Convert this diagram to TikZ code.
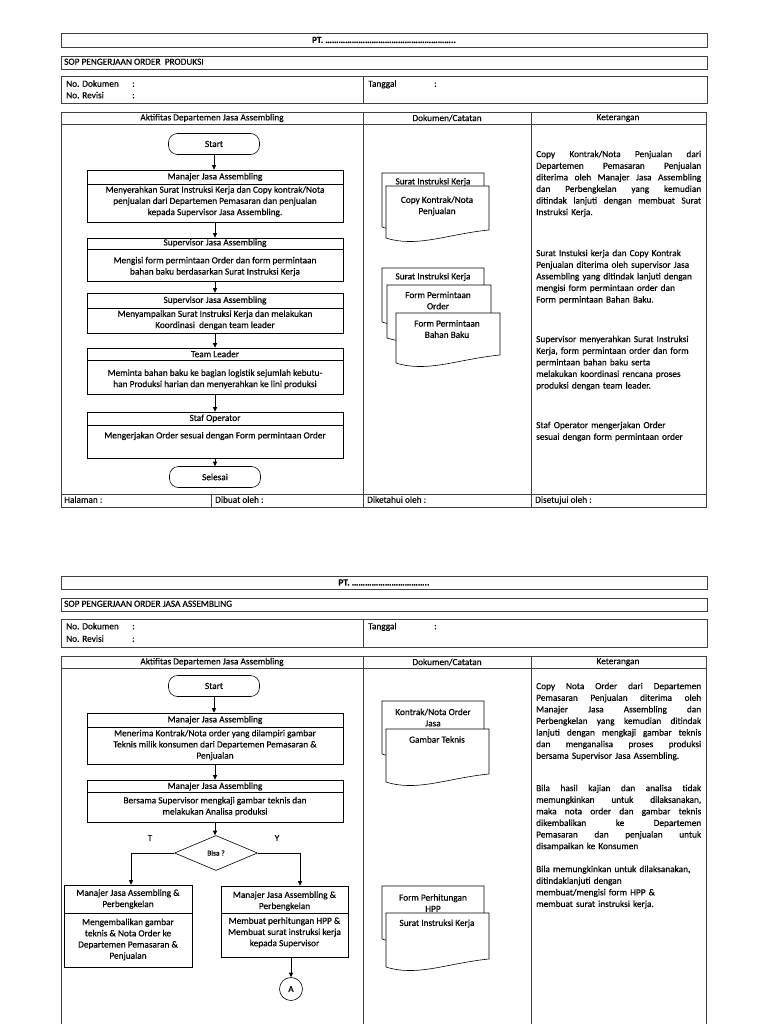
\documentclass[tikz,border=0pt]{standalone}
\usepackage{fontspec}
\setmainfont{Carlito}[FakeBold=0.3]
\usetikzlibrary{arrows.meta,shapes.geometric}
\newcommand\fsz{\fontsize{9.3}{11.2}\selectfont}
\newcommand\ketsz{\fontsize{9.3}{11.6}\selectfont}
\newcommand\smsz{\fontsize{7.5}{9}\selectfont}
\newcommand\J[1]{\makebox[165pt][s]{\spaceskip=0.25em plus 5em\relax #1}\\}
\newcommand\docshape[4]{\filldraw[fc,fill=white] (#1,#2) -- ++(#3,0) -- ++(0,#4-8) .. controls +(-0.4*#3,4) and +(0.3*#3,10) .. (#1,#2+#4) -- cycle;}
\begin{document}
\begin{tikzpicture}[x=1pt,y=-1pt,
  frame/.style={draw=black!75,line width=0.9pt},
  fc/.style={draw=black,line width=0.6pt},
  arr/.style={fc,-{Triangle[length=4.5pt,width=4pt]}},
  t/.style={inner sep=0pt,font=\fsz,align=center,text=black},
  tl/.style={inner sep=0pt,font=\fsz,anchor=west,text=black,text height=6.3pt,text depth=1.8pt},
  term/.style={fc,rounded corners=9pt,minimum width=91pt,minimum height=21pt,inner sep=0pt,font=\fsz},
  proc/.style={fc,minimum width=256pt,inner sep=0pt},
  ket/.style={inner sep=0pt,font=\ketsz,anchor=north west,text width=165pt,align=left,text=black},
]
\useasboundingbox (0,0) rectangle (768,1024);
\fill[white] (0,0) rectangle (768,1024);

% ================= SECTION 1 =================
\draw[frame] (61,33) rectangle (707,47);
\node[t,font=\fsz\bfseries] (pt1) at (384,40) {PT. …………………………………………………..};
\draw[frame] (61,56) rectangle (707,69);
\node[tl] (sop1) at (64,62.5) {SOP PENGERJAAN ORDER\ \ PRODUKSI};
\draw[frame] (61,76) rectangle (707,103);
\draw[frame] (363,76) -- (363,103);
\node[tl] (nd1) at (66,84.5) {No. Dokumen};
\node[tl] (nd1c) at (132,84.5) {:};
\node[tl] (nr1) at (66,96) {No. Revisi};
\node[tl] (nr1c) at (132,96) {:};
\node[tl] (tg1) at (368,84.5) {Tanggal};
\node[tl] (tg1c) at (434,84.5) {:};

\draw[frame] (61,112) rectangle (706,507);
\draw[frame] (61,124) -- (706,124);
\draw[frame] (363,112) -- (363,507);
\draw[frame] (531,112) -- (531,507);
\draw[frame] (61,494) -- (706,494);
\draw[frame] (211,494) -- (211,507);
\node[t] (h11) at (212,118) {Aktifitas Departemen Jasa Assembling};
\node[t] (h12) at (447,118) {Dokumen/Catatan};
\node[t] (h13) at (618,118) {Keterangan};
\node[tl] (f11) at (64,500.5) {Halaman :};
\node[tl] (f12) at (215,500.5) {Dibuat oleh :};
\node[tl] (f13) at (367,500.5) {Diketahui oleh :};
\node[tl] (f14) at (535,500.5) {Disetujui oleh :};

% flowchart 1
\node[term] (s1) at (214,144) {Start};
\node[proc,minimum height=52pt] (b1) at (215,196) {};
\draw[fc] (87,184) -- (343,184);
\node[t] (b1h) at (215,177) {Manajer Jasa Assembling};
\node[t] (b1b) at (215,201.5) {Menyerahkan Surat Instruksi Kerja dan Copy kontrak/Nota\\penjualan dari Departemen Pemasaran dan penjualan\\kepada Supervisor Jasa Assembling.};

\node[proc,minimum height=43pt] (b2) at (215,259.5) {};
\draw[fc] (87,249) -- (343,249);
\node[t] (b2h) at (215,243) {Supervisor Jasa Assembling};
\node[t] (b2b) at (215,266.5) {Mengisi form permintaan Order dan form permintaan\\bahan baku berdasarkan Surat Instruksi Kerja};

\node[proc,minimum height=40pt] (b3) at (215,313) {};
\draw[fc] (87,308) -- (343,308);
\node[t] (b3h) at (215,300.5) {Supervisor Jasa Assembling};
\node[t] (b3b) at (215,320) {Menyampaikan Surat Instruksi Kerja dan melakukan\\Koordinasi\ \ dengan team leader};

\node[proc,minimum height=46pt] (b4) at (215,371) {};
\draw[fc] (87,360) -- (343,360);
\node[t] (b4h) at (215,354) {Team Leader};
\node[t] (b4b) at (215,379) {Meminta bahan baku ke bagian logistik sejumlah kebutu-\\han Produksi harian dan menyerahkan ke lini produksi};

\node[proc,minimum height=46pt] (b5) at (215,435) {};
\draw[fc] (87,425) -- (343,425);
\node[t] (b5h) at (215,418.5) {Staf Operator};
\node[t] (b5b) at (215,436) {Mengerjakan Order sesuai dengan Form permintaan Order};

\node[term] (e1) at (215,477) {Selesai};

\draw[arr] (s1.south) -- (s1.south |- b1.north);
\draw[arr] (b1.south) -- (b2.north);
\draw[arr] (b2.south) -- (b3.north);
\draw[arr] (b3.south) -- (b4.north);
\draw[arr] (b4.south) -- (b5.north);
\draw[arr] (b5.south) -- (b5.south |- e1.north);

% documents 1
\docshape{382}{173}{102}{54}
\node[t] (d1a) at (433,182) {Surat Instruksi Kerja};
\docshape{386}{186}{103}{52}
\node[t] (d1b) at (437,206) {Copy Kontrak/Nota\\Penjualan};
\docshape{382}{268}{102}{54}
\node[t] (d2a) at (433,277) {Surat Instruksi Kerja};
\docshape{387}{285}{104}{53}
\node[t] (d2b) at (438,300.5) {Form Permintaan\\Order};
\docshape{396}{313}{104}{50}
\node[t] (d2c) at (447,329) {Form Permintaan\\Bahan Baku};

% keterangan 1
\node[ket] (k11) at (536,150.5) {\J{Copy Kontrak/Nota Penjualan dari}\J{Departemen Pemasaran Penjualan}\J{diterima oleh Manajer Jasa Assembling}\J{dan Perbengkelan yang kemudian}\J{ditindak lanjuti dengan membuat Surat}Instruksi Kerja.};
\node[ket] (k12) at (536,249.5) {Surat Instuksi kerja dan Copy Kontrak\\Penjualan diterima oleh supervisor Jasa\\Assembling yang ditindak lanjuti dengan\\mengisi form permintaan order dan\\Form permintaan Bahan Baku.};
\node[ket] (k13) at (536,335.5) {Supervisor menyerahkan Surat Instruksi\\Kerja, form permintaan order dan form\\permintaan bahan baku serta\\melakukan koordinasi rencana proses\\produksi dengan team leader.};
\node[ket] (k14) at (536,421.5) {Staf Operator mengerjakan Order\\sesuai dengan form permintaan order};

% ================= SECTION 2 =================
\draw[frame] (61,576) rectangle (707,589);
\node[t,font=\fsz\bfseries] (pt2) at (384,582.5) {PT. ……………………………..};
\draw[frame] (61,598) rectangle (707,611);
\node[tl] (sop2) at (64,604.5) {SOP PENGERJAAN ORDER JASA ASSEMBLING};
\draw[frame] (61,619) rectangle (707,647);
\draw[frame] (363,619) -- (363,647);
\node[tl] (nd2) at (66,627) {No. Dokumen};
\node[tl] (nd2c) at (132,627) {:};
\node[tl] (nr2) at (66,639.5) {No. Revisi};
\node[tl] (nr2c) at (132,639.5) {:};
\node[tl] (tg2) at (368,627) {Tanggal};
\node[tl] (tg2c) at (434,627) {:};

\draw[frame] (61,1030) -- (61,656) -- (706,656) -- (706,1030);
\draw[frame] (61,668) -- (706,668);
\draw[frame] (363,656) -- (363,1030);
\draw[frame] (531,656) -- (531,1030);
\node[t] (h21) at (212,662) {Aktifitas Departemen Jasa Assembling};
\node[t] (h22) at (447,662) {Dokumen/Catatan};
\node[t] (h23) at (618,662) {Keterangan};

% flowchart 2
\node[term] (s2) at (214,686) {Start};
\node[proc,minimum height=51pt] (c1) at (215,738.5) {};
\draw[fc] (87,727) -- (343,727);
\node[t] (c1h) at (215,720) {Manajer Jasa Assembling};
\node[t] (c1b) at (215,745) {Menerima Kontrak/Nota order yang dilampiri gambar\\Teknis milik konsumen dari Departemen Pemasaran \&\\Penjualan};

\node[proc,minimum height=42pt] (c2) at (215,801) {};
\draw[fc] (87,792) -- (343,792);
\node[t] (c2h) at (215,786.5) {Manajer Jasa Assembling};
\node[t] (c2b) at (215,806.5) {Bersama Supervisor mengkaji gambar teknis dan\\melakukan Analisa produksi};

\node[fc,diamond,minimum width=83pt,minimum height=35pt,inner sep=0pt,font=\smsz] (dm) at (216,853) {Bisa ?};
\node[t] (tT) at (150,838) {T};
\node[t] (tY) at (277,838) {Y};

\node[fc,minimum width=128pt,minimum height=82pt,inner sep=0pt] (L) at (128,926) {};
\draw[fc] (64,913) -- (192,913);
\node[t] (Lh) at (128,899) {Manajer Jasa Assembling \&\\Perbengkelan};
\node[t] (Lb) at (128,939.5) {Mengembalikan gambar\\teknis \& Nota Order ke\\Departemen Pemasaran \&\\Penjualan};

\node[fc,minimum width=127pt,minimum height=71pt,inner sep=0pt] (R) at (284.5,921.5) {};
\draw[fc] (221,913) -- (348,913);
\node[t] (Rh) at (284.5,901) {Manajer Jasa Assembling \&\\Perbengkelan};
\node[t] (Rb) at (284.5,932.5) {Membuat perhitungan HPP \&\\Membuat surat instruksi kerja\\kepada Supervisor};

\node[fc,circle,minimum size=23pt,inner sep=0pt,font=\fsz] (A) at (291,989) {A};

\coordinate (lv) at (131,900);
\coordinate (rv) at (300,900);
\draw[arr] (s2.south) -- (s2.south |- c1.north);
\draw[arr] (c1.south) -- (c2.north);
\draw[arr] (c2.south) -- (c2.south |- dm.north);
\draw[arr] (dm.west) -| (lv |- L.north);
\draw[arr] (dm.east) -| (rv |- R.north);
\draw[arr] (A |- R.south) -- (A.north);

% documents 2
\docshape{382}{701}{102}{53}
\node[t] (d3a) at (433,717.5) {Kontrak/Nota Order\\Jasa};
\docshape{386}{729}{103}{53}
\node[t] (d3b) at (437,739.5) {Gambar Teknis};
\docshape{382}{886}{102}{53}
\node[t] (d4a) at (433,903) {Form Perhitungan\\HPP};
\docshape{386}{913}{103}{54}
\node[t] (d4b) at (437,923.5) {Surat Instruksi Kerja};

% keterangan 2
\node[ket] (k21) at (536,682.5) {\J{Copy Nota Order dari Departemen}\J{Pemasaran Penjualan diterima oleh}\J{Manajer Jasa Assembling dan}\J{Perbengkelan yang kemudian ditindak}\J{lanjuti dengan mengkaji gambar teknis}\J{dan menganalisa proses produksi}bersama Supervisor Jasa Assembling.};
\node[ket] (k22) at (536,784.5) {\J{Bila hasil kajian dan analisa tidak}\J{memungkinkan untuk dilaksanakan,}\J{maka nota order dan gambar teknis}\J{dikembalikan ke Departemen}\J{Pemasaran dan penjualan untuk}disampaikan ke Konsumen};
\node[ket] (k23) at (536,865.5) {Bila memungkinkan untuk dilaksanakan,\\ditindaklanjuti dengan\\membuat/mengisi form HPP \&\\membuat surat instruksi kerja.};
\end{tikzpicture}
\end{document}
